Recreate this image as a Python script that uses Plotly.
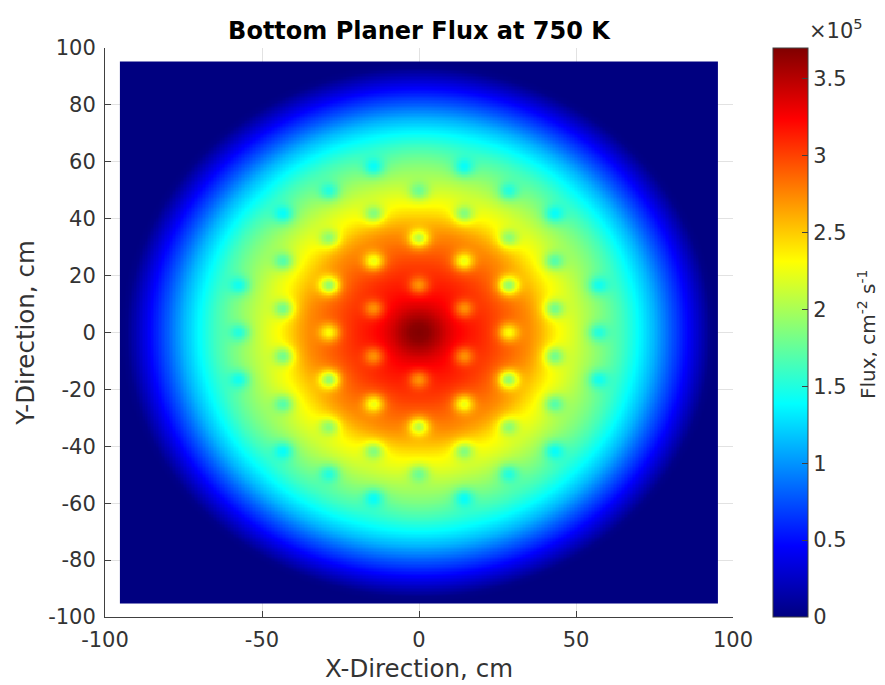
import numpy as np
import plotly.graph_objects as go

# Radial flux profile (cm, flux / 1e5)
radius_cm = [0, 3, 6, 9, 12, 16, 20, 25, 30, 35, 38, 41, 44, 48, 52, 56, 60, 65, 70, 75, 80, 85, 90, 93, 95, 140]
radial_flux = [3.70, 3.66, 3.54, 3.41, 3.32, 3.24, 3.17, 3.07, 2.96, 2.82, 2.70, 2.55, 2.41, 2.28, 2.14, 2.00, 1.85, 1.64, 1.39, 1.12, 0.80, 0.50, 0.20, 0.03, 0.0, 0.0]

# Local flux dips in the first quadrant (mirrored by symmetry)
dip_x = [14.3, 0.0, 14.3, 28.5, 28.5, 0.0, 28.5, 43.0, 14.3, 43.0, 43.0, 28.5, 0.0, 14.3, 57.0, 57.0]
dip_y = [8.3, 16.5, 25.0, 16.5, 0.0, 33.0, 33.0, 8.3, 41.5, 25.0, 41.5, 49.5, 49.5, 58.0, 16.5, 0.0]
dip_depth = [0.42, 0.42, 0.60, 0.78, 0.55, 0.66, 0.42, 0.50, 0.44, 0.42, 0.36, 0.36, 0.36, 0.36, 0.34, 0.36]

x_tick_values = [-100, -50, 0, 50, 100]
x_tick_labels = ["-100", "-50", "0", "50", "100"]
y_tick_values = [-100, -80, -60, -40, -20, 0, 20, 40, 60, 80, 100]
y_tick_labels = ["-100", "-80", "-60", "-40", "-20", "0", "20", "40", "60", "80", "100"]
cbar_tick_values = [0, 0.5e5, 1e5, 1.5e5, 2e5, 2.5e5, 3e5, 3.5e5]
cbar_tick_labels = ["0", "0.5", "1", "1.5", "2", "2.5", "3", "3.5"]

jet = [[0, "rgb(0,0,128)"], [0.125, "rgb(0,0,255)"], [0.375, "rgb(0,255,255)"],
       [0.625, "rgb(255,255,0)"], [0.875, "rgb(255,0,0)"], [1, "rgb(128,0,0)"]]

xs = np.linspace(-95, 95, 381)
ys = np.linspace(-95, 95, 381)
X, Y = np.meshgrid(xs, ys)
R = np.hypot(X, Y)
Z = np.interp(R, radius_cm, radial_flux)
for dx, dy, d in zip(dip_x, dip_y, dip_depth):
    sx = [dx, -dx] if dx else [0.0]
    sy = [dy, -dy] if dy else [0.0]
    for a in sx:
        for b in sy:
            r2 = (X - a) ** 2 + (Y - b) ** 2
            Z = Z - d * np.exp(-r2 / (2 * 2.2 ** 2)) - 0.22 * d * np.exp(-r2 / (2 * 5.5 ** 2))
Z = np.clip(Z, 0, None) * 1e5

fig = go.Figure(go.Heatmap(
    x=xs, y=ys, z=np.round(Z, -1), colorscale=jet, zmin=0, zmax=3.7e5,
    hoverinfo="skip",
    colorbar=dict(
        x=1.0637, xanchor="left", y=0, yanchor="bottom", len=1, lenmode="fraction",
        xpad=0, ypad=0,
        thickness=35, thicknessmode="pixels", outlinecolor="#404040", outlinewidth=1,
        tickmode="array", tickvals=cbar_tick_values, ticktext=cbar_tick_labels,
        ticks="inside", ticklen=6, tickcolor="#404040",
        tickfont=dict(family="DejaVu Sans", size=21, color="#333333"),
    ),
))

axis_common = dict(
    showgrid=True, gridcolor="#e2e2e2", gridwidth=1, zeroline=False,
    showline=True, linecolor="#404040", linewidth=1, ticks="inside", ticklen=6,
    tickcolor="#404040", ticklabelstandoff=4,
    tickfont=dict(family="DejaVu Sans", size=21, color="#333333"),
)
fig.update_xaxes(range=[-100, 100], tickmode="array", tickvals=x_tick_values, ticktext=x_tick_labels,
                 title=dict(text="X-Direction, cm", standoff=8,
                            font=dict(family="DejaVu Sans", size=24.5, color="#333333")), **axis_common)
fig.update_yaxes(range=[-100, 100], tickmode="array", tickvals=y_tick_values, ticktext=y_tick_labels,
                 title=dict(text="Y-Direction, cm", standoff=6,
                            font=dict(family="DejaVu Sans", size=24.5, color="#333333")), **axis_common)

fig.update_layout(
    width=885, height=685, margin=dict(l=97, r=160, t=40, b=76, autoexpand=False),
    paper_bgcolor="white", plot_bgcolor="white",
    title=dict(text="<b>Bottom Planer Flux at 750 K</b>", x=411 / 885, xanchor="center",
               y=1 - 23 / 685, yanchor="middle",
               font=dict(family="DejaVu Sans", size=24, color="black")),
    annotations=[
        dict(text="×10<sup>5</sup>", xref="paper", yref="paper", x=1.118, y=1.005,
             xanchor="left", yanchor="bottom", showarrow=False,
             font=dict(family="DejaVu Sans", size=21, color="#333333")),
        dict(text="Flux, cm<sup>-2</sup> s<sup>-1</sup>", xref="paper", yref="paper",
             x=1.213, y=0.497, xanchor="center", yanchor="middle", textangle=-90, showarrow=False,
             font=dict(family="DejaVu Sans", size=20, color="#333333")),
    ],
)
fig.write_html("out.html")
